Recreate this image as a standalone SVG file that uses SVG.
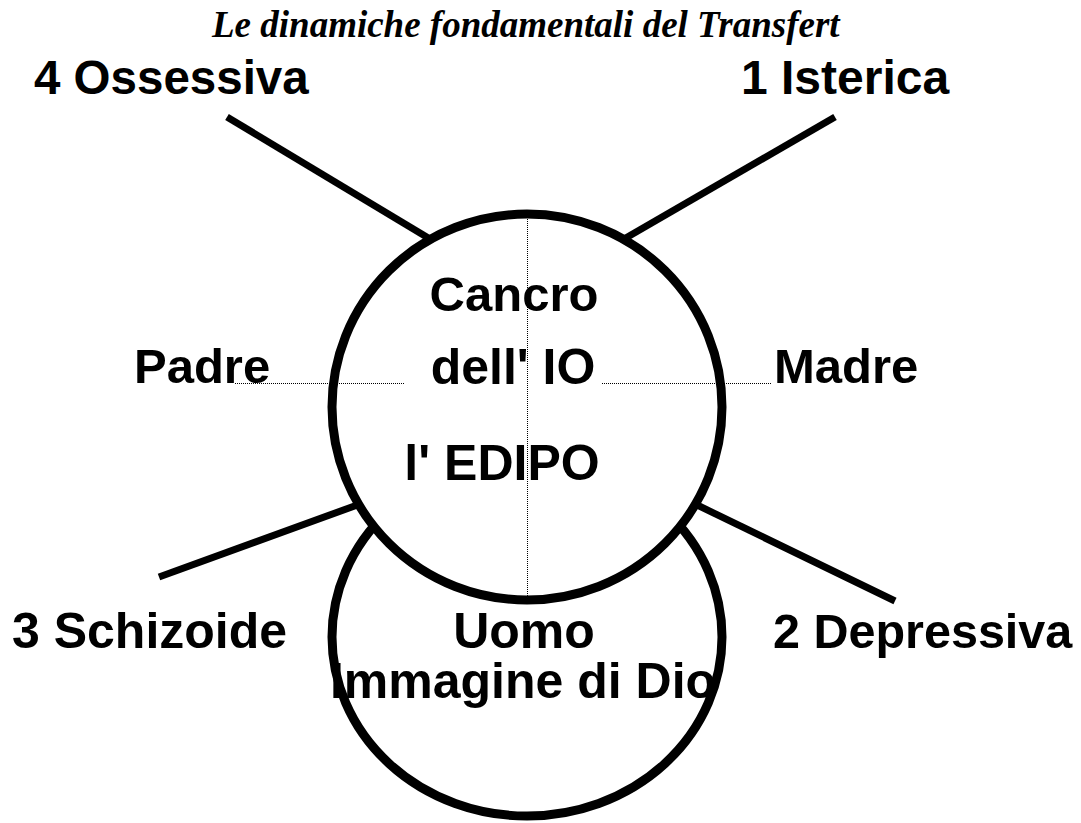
<svg xmlns="http://www.w3.org/2000/svg" width="1081" height="823" viewBox="0 0 1081 823">
<style>
.lbl{font-family:"Liberation Sans",Arial,sans-serif;font-weight:bold;font-size:49px;fill:#000}
.big{font-size:50px}
.title{font-family:"Liberation Serif","Times New Roman",serif;font-weight:bold;font-style:italic;font-size:37px;fill:#000}
.spoke{stroke:#000;stroke-width:7;fill:none}
.dot{stroke:#000;stroke-width:1;stroke-dasharray:1 1;fill:none}
.ring{stroke:#000;stroke-width:9}
</style>
<rect width="1081" height="823" fill="#fff"/>
<text class="title" x="212" y="37">Le dinamiche fondamentali del Transfert</text>
<g id="connectors">
<line class="spoke" x1="227" y1="117" x2="430" y2="239"/>
<line class="spoke" x1="835" y1="117" x2="624" y2="239"/>
<line class="spoke" x1="159" y1="577" x2="360" y2="504"/>
<line class="spoke" x1="895" y1="601" x2="695" y2="504"/>
</g>
<g id="lower">
<ellipse cx="527" cy="637" rx="195" ry="179" fill="#fff"/>
<text class="lbl big" x="524" y="648" text-anchor="middle">Uomo</text>
<text class="lbl big" x="523" y="698" text-anchor="middle">Immagine di Dio</text>
<ellipse class="ring" cx="527" cy="637" rx="195" ry="179" fill="none"/>
</g>
<g id="main">
<ellipse class="ring" cx="527" cy="407" rx="195" ry="193" fill="#fff"/>
<line class="dot" x1="527.5" y1="217" x2="527.5" y2="596"/>
<line class="dot" x1="235" y1="383.5" x2="405" y2="383.5"/>
<line class="dot" x1="602" y1="383.5" x2="772" y2="383.5"/>
<text class="lbl" x="514" y="311" text-anchor="middle">Cancro</text>
<text class="lbl big" x="513" y="384" text-anchor="middle">dell' IO</text>
<text class="lbl big" x="502" y="480" text-anchor="middle">l' EDIPO</text>
</g>
<g id="n4"><text class="lbl" x="34" y="94" style="font-size:47.5px">4 Ossessiva</text></g>
<g id="n1"><text class="lbl" x="741" y="94" style="font-size:48px">1 Isterica</text></g>
<g id="padre"><text class="lbl" x="134" y="383">Padre</text></g>
<g id="madre"><text class="lbl" x="774" y="383">Madre</text></g>
<g id="n3"><text class="lbl big" x="12" y="648">3 Schizoide</text></g>
<g id="n2"><text class="lbl" x="773" y="648" style="font-size:48.5px">2 Depressiva</text></g>
</svg>
